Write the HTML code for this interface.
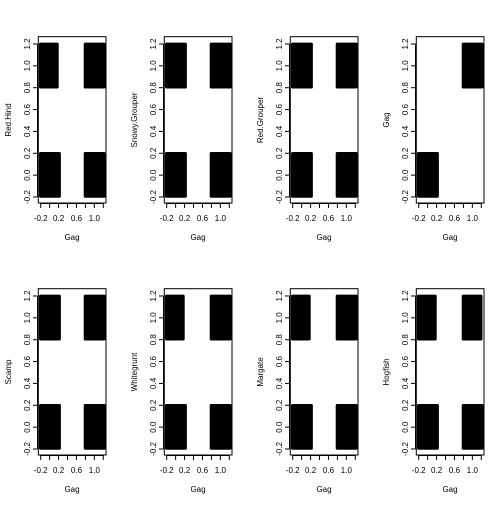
<!DOCTYPE html>
<html><head><meta charset="utf-8"><style>
html,body{margin:0;padding:0;background:#fff}
svg text{font-family:"Liberation Sans",Arial,sans-serif;font-size:8px;fill:#000}
</style></head><body>
<svg id="c" width="504" height="504" xmlns="http://www.w3.org/2000/svg"></svg>
<script>
// Panel y-variable names; x is always Gag
const yNames = ["Red.Hind","Snowy.Grouper","Red.Grouper","Gag","Scamp","Whitegrunt","Margate","Hogfish"];
// Presence of each (x,y) cluster: [x0y0, x0y1, x1y0, x1y1]
const clusters = [
  [1,1,1,1],[1,1,1,1],[1,1,1,1],[1,0,0,1],
  [1,1,1,1],[1,1,1,1],[1,1,1,1],[1,1,1,1]
];
// Density of each cluster (1 = solid, <1 = ragged edge)
const density = [
  [1,0.9,1,1],[1,1,1,1],[1,1,1,1],[1,0,0,1],
  [1,1,1,1],[1,0.9,1,1],[1,0.9,1,1],[1,0.9,1,0.95]
];
const xTicks = [-0.2,0,0.2,0.4,0.6,0.8,1.0,1.2];
const xTickLabels = ["-0.2","0.2","0.6","1.0"];
const yTicks = [-0.2,0,0.2,0.4,0.6,0.8,1.0,1.2];
const jitter = 0.2;

const NS="http://www.w3.org/2000/svg";
const svg=document.getElementById('c');
function el(t,a,p){const e=document.createElementNS(NS,t);for(const k in a)e.setAttribute(k,a[k]);(p||svg).appendChild(e);return e;}

yNames.forEach((nm,i)=>{
  const ox=(i%4)*126, oy=Math.floor(i/4)*252;
  const g=el('g',{});
  
  
  const X=v=>ox+40.7+(v+0.2)*44.7;
  const Y=v=>oy+197-(v+0.2)*109.3;
  const cx=[0,0,1,1], cy=[0,1,0,1];
  clusters[i].forEach((on,k)=>{
    if(!on)return;
    const d=density[i][k];
    const x0=X(cx[k]-jitter)-1.7, x1=X(cx[k]+jitter)+2.3;
    const y0=Y(cy[k]+jitter)-1.3, y1=Y(cy[k]-jitter)+0.8;
    const w=(x1-x0)*d;
    const r=el('rect',{x:x0,y:y0,width:w,height:y1-y0,fill:'#000',rx:1.5},g);
    
    
  });
  const b=el('rect',{x:ox+38.3,y:oy+36.7,width:67.7,height:166.3,fill:'none',stroke:'#000','stroke-width':1},g);
  
  
  el('line',{x1:X(-0.2),x2:X(1.2),y1:oy+203.5,y2:oy+203.5,stroke:'#000'},g);
  xTicks.forEach(t=>{el('line',{x1:X(t),x2:X(t),y1:oy+203.5,y2:oy+208,stroke:'#000'},g);});
  xTickLabels.forEach(s=>{
    const t=el('text',{x:X(parseFloat(s)),y:oy+221,'text-anchor':'middle'},g);t.textContent=s;
    
    
  });
  el('line',{x1:ox+37.5,x2:ox+37.5,y1:Y(-0.2),y2:Y(1.2),stroke:'#000'},g);
  yTicks.forEach(t=>{
    el('line',{x1:ox+33,x2:ox+37.5,y1:Y(t),y2:Y(t),stroke:'#000'},g);
    const tx=el('text',{x:0,y:0,'text-anchor':'middle',transform:`translate(${ox+30},${Y(t)}) rotate(-90)`},g);
    tx.textContent=t.toFixed(1);
    
    
  });
  const xt=el('text',{x:ox+72,y:oy+240,'text-anchor':'middle'},g);xt.textContent='Gag';
  
  
  const yt=el('text',{x:0,y:0,'text-anchor':'middle',transform:`translate(${ox+11},${oy+120}) rotate(-90)`},g);yt.textContent=nm;
  
  
});
</script>
</body></html>
